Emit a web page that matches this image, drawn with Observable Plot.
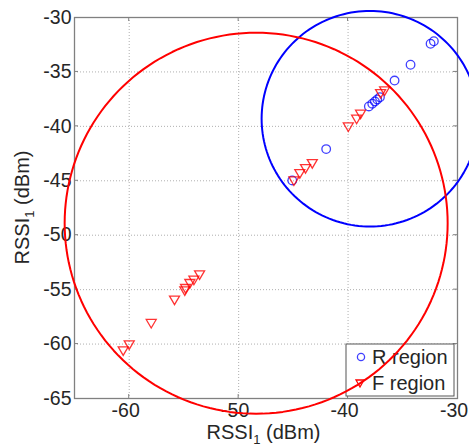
<!DOCTYPE html>
<html><head><meta charset="utf-8">
<script src="https://cdn.jsdelivr.net/npm/d3@7"></script>
<script src="https://cdn.jsdelivr.net/npm/@observablehq/plot@0.6"></script>
<style>body{margin:0;background:#fff} svg{overflow:hidden}</style>
</head><body><div id="chart"></div>
<script>
// R region samples (blue circles)
const rX = [-32.16, -32.46, -34.29, -35.75, -37.09, -37.33, -37.55, -37.79, -38.10, -42.00, -45.10];
const rY = [-32.18, -32.41, -34.34, -35.79, -37.32, -37.53, -37.71, -37.92, -38.17, -42.09, -44.97];
// F region samples (red triangles)
const fX = [-36.66, -37.03, -38.86, -39.22, -39.98, -43.27, -43.89, -44.41, -44.95, -53.57, -54.09, -54.46, -54.85, -54.92, -55.86, -57.99, -60.00, -60.55];
const fY = [-36.70, -36.95, -38.84, -39.30, -40.01, -43.38, -43.84, -44.30, -44.97, -53.60, -54.09, -54.40, -54.86, -55.07, -55.92, -58.07, -60.03, -60.58];
const regionNames = ["R region", "F region"];
// Region boundary circles (center and radius, in dBm)
const circleCX = [-38.0, -48.4];
const circleCY = [-39.3, -48.9];
const circleR  = [9.9, 17.5];
const xTicks = [-60, -50, -40, -30];
const yTicks = [-65, -60, -55, -50, -45, -40, -35, -30];

const blue = "#0000ff", red = "#ff0000";
const rData = rX.map((x, i) => ({x, y: rY[i]}));
const fData = fX.map((x, i) => ({x, y: fY[i]}));
const circles = circleCX.map((cx, k) => d3.range(0, 361, 2).map(a => ({
  k, x: cx + circleR[k] * Math.cos(a * Math.PI / 180), y: circleCY[k] + circleR[k] * Math.sin(a * Math.PI / 180)
})));

const triDown = {draw(ctx, size) {
  const r = Math.sqrt(size / Math.PI);
  ctx.moveTo(-r, -0.72 * r); ctx.lineTo(r, -0.72 * r); ctx.lineTo(0, r); ctx.closePath();
}};

const plot = Plot.plot({
  width: 469, height: 447,
  marginLeft: 74, marginRight: 12, marginTop: 17, marginBottom: 49,
  style: {fontFamily: "'Liberation Sans', Arial, Helvetica, sans-serif", fontSize: "19.5px", color: "#262626", background: "#fff"},
  x: {domain: [-65, -30], label: null},
  y: {domain: [-65, -30], label: null},
  marks: [
    Plot.gridX(xTicks.slice(0, 3), {stroke: "#9a9a9a", strokeOpacity: 1, strokeDasharray: "1,2", strokeWidth: 0.8}),
    Plot.gridY(yTicks.slice(1, 7), {stroke: "#9a9a9a", strokeOpacity: 1, strokeDasharray: "1,2", strokeWidth: 0.8}),
    Plot.axisX({ticks: xTicks, tickSize: 0, tickPadding: 5, dx: -3.5, tickFormat: d => String(d), label: null}),
    Plot.axisY({ticks: yTicks, tickSize: 0, tickPadding: 3, tickFormat: d => String(d), label: null}),
    Plot.dot(rData, {x: "x", y: "y", r: 4.3, stroke: blue, strokeOpacity: 0.75, strokeWidth: 1.3, fill: "none"}),
    Plot.dot(fData, {x: "x", y: "y", r: 5, symbol: triDown, stroke: red, strokeOpacity: 0.8, strokeWidth: 1.3, fill: "none"}),
    ...circles.map((c, k) => Plot.line(c, {x: "x", y: "y", stroke: k === 0 ? blue : red, strokeWidth: 2, clip: false})),
    Plot.frame({stroke: "#808080", strokeWidth: 1.3})
  ]
});

const svg = d3.select(plot);
const sx = plot.scale("x"), sy = plot.scale("y");
const X0 = sx.apply(-65), X1 = sx.apply(-30), Y0 = sy.apply(-65), Y1 = sy.apply(-30);
const tg = svg.append("g").attr("stroke", "#808080").attr("stroke-width", 1);
xTicks.slice(0, 3).forEach(v => {
  const px = sx.apply(v);
  tg.append("line").attr("x1", px).attr("x2", px).attr("y1", Y0).attr("y2", Y0 - 4);
  tg.append("line").attr("x1", px).attr("x2", px).attr("y1", Y1).attr("y2", Y1 + 4);
});
yTicks.slice(1, 7).forEach(v => {
  const py = sy.apply(v);
  tg.append("line").attr("y1", py).attr("y2", py).attr("x1", X0).attr("x2", X0 + 4);
  tg.append("line").attr("y1", py).attr("y2", py).attr("x1", X1).attr("x2", X1 - 4);
});

// Legend
const lg = svg.append("g").attr("text-anchor", "start").attr("font-size", 20);
lg.append("rect").attr("x", 346).attr("y", 344).attr("width", 108).attr("height", 52)
  .attr("fill", "#fff").attr("stroke", "#555").attr("stroke-width", 1);
lg.append("circle").attr("cx", 361).attr("cy", 357).attr("r", 3.6).attr("fill", "none").attr("stroke", blue).attr("stroke-opacity", 0.75).attr("stroke-width", 1.3);
lg.append("path").attr("transform", "translate(360,383)").attr("d", "M-4,-3L4,-3L0,4Z").attr("fill", "none").attr("stroke", red).attr("stroke-width", 1.3);
lg.append("text").attr("x", 372).attr("y", 364).attr("fill", "#262626").text(regionNames[0]);
lg.append("text").attr("x", 372).attr("y", 390).attr("fill", "#262626").text(regionNames[1]);

// Axis labels with subscript
function label(g) {
  g.attr("fill", "#262626").attr("text-anchor", "middle").attr("font-size", 20);
  g.append("tspan").text("RSSI");
  g.append("tspan").attr("dy", 5).attr("font-size", 13).text("1");
  g.append("tspan").attr("dy", -5).text(" (dBm)");
}
svg.append("text").attr("x", (X0 + X1) / 2 - 2).attr("y", 439).call(label);
svg.append("text").attr("transform", `translate(29,${(Y0 + Y1) / 2}) rotate(-90)`).call(label);

svg.selectAll('g[aria-label="line"]').raise();
document.getElementById("chart").appendChild(plot);
</script>
</body></html>
